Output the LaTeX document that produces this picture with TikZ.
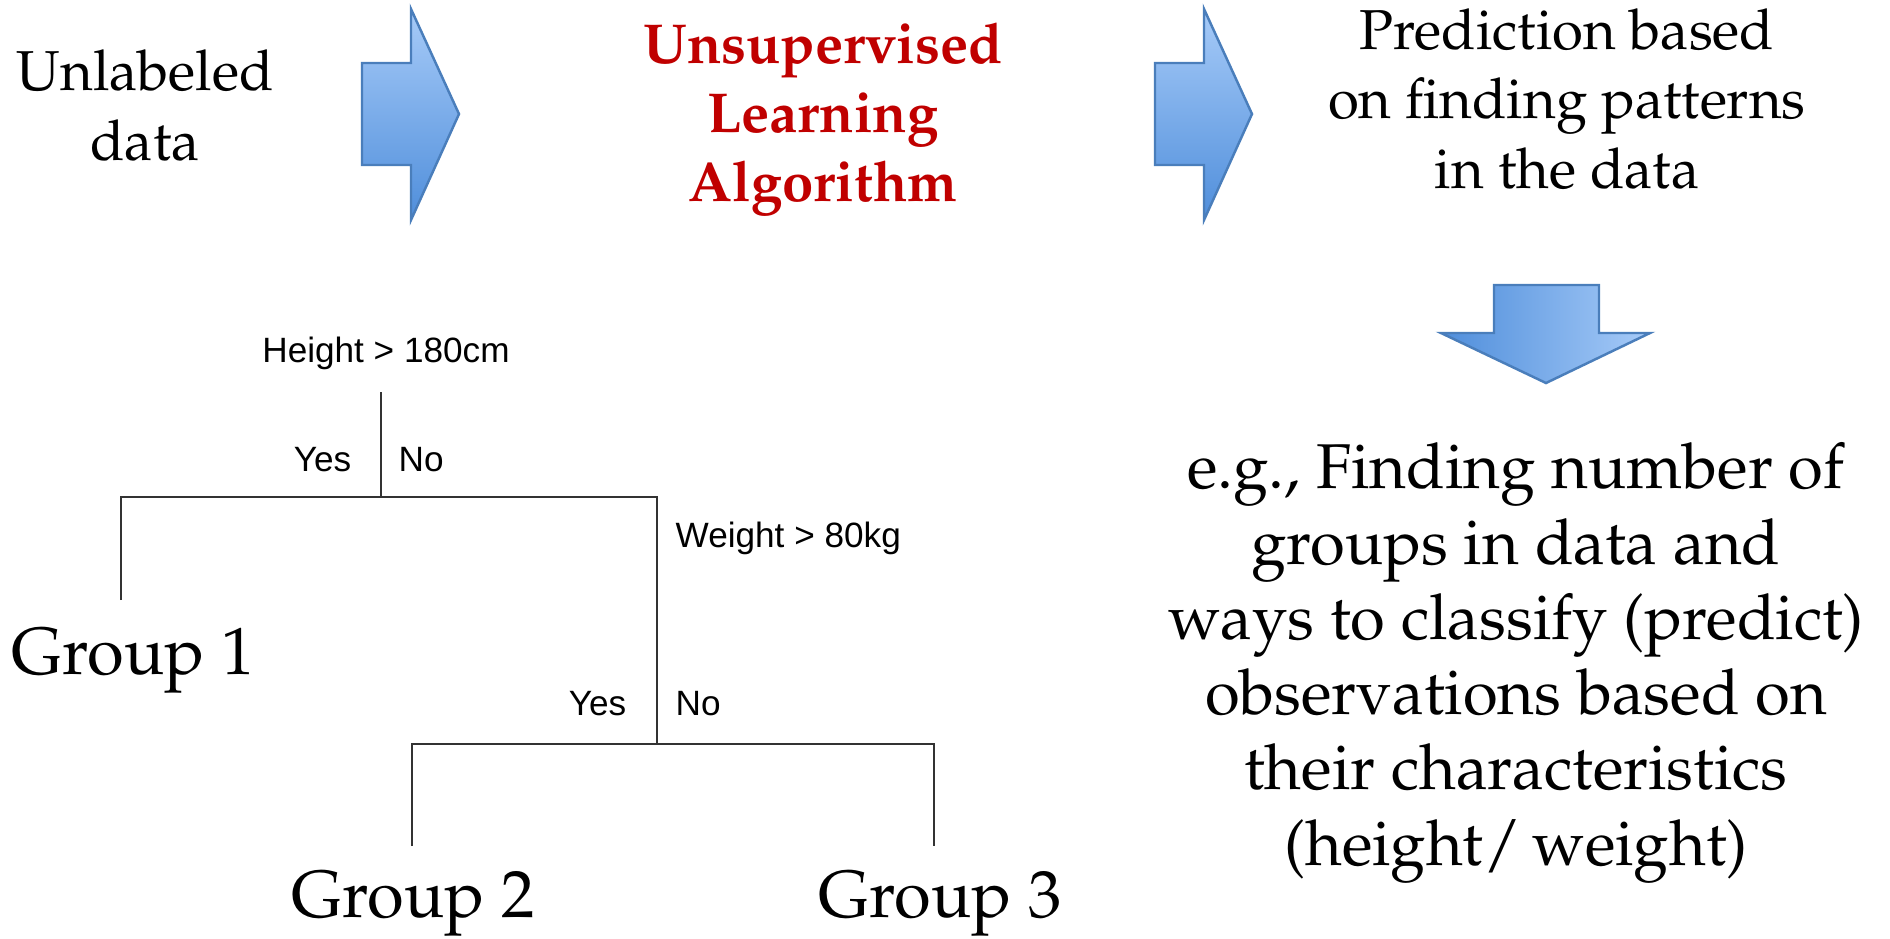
\documentclass[tikz,border=0pt]{standalone}
\usepackage[T1]{fontenc}
\usepackage{fontspec}
\newfontfamily\treefont{Liberation Sans}
\newcommand{\palfont}{\fontencoding{T1}\fontfamily{ppl}\selectfont}
\usetikzlibrary{positioning}
\definecolor{arrowtop}{HTML}{A7CBF8}
\definecolor{arrowbot}{HTML}{4F8EDB}
\definecolor{arrowedge}{HTML}{4A7EBB}
\definecolor{algored}{HTML}{C00000}
\definecolor{treegray}{HTML}{333333}

\begin{document}
\begin{tikzpicture}[x=0.01cm, y=-0.01cm,
  blockarrow/.style={draw=arrowedge, line width=0.7pt, line join=miter},
  maintext/.style={font=\palfont\fontsize{16}{19.8}\selectfont, align=center, inner sep=0pt},
  bigtext/.style={font=\palfont\fontsize{18}{21.4}\selectfont, align=center, inner sep=0pt},
  grouptext/.style={font=\palfont\fontsize{19}{22}\selectfont, inner sep=0pt},
  treelbl/.style={font=\treefont\fontsize{10}{12}\selectfont, inner sep=0pt},
  treeline/.style={treegray, line width=0.6pt}]
  \useasboundingbox (0,0) rectangle (1890,938);

  % Top row
  \node[maintext] (unlabeled) at (145,105) {Unlabeled\\data};
  \foreach \ax in {362,1155}{
    \shade[blockarrow, top color=arrowtop, bottom color=arrowbot]
      (\ax,63) -- ++(49,0) -- ++(0,-54) -- ++(48,105) -- ++(-48,106) -- ++(0,-55) -- ++(-49,0) -- cycle;
  }
  \node[maintext, font=\palfont\bfseries\fontsize{16}{19.6}\selectfont, algored] (algo) at (823,119)
    {Unsupervised\\Learning\\Algorithm};
  \node[maintext] (predict) at (1567,99) {Prediction based\\on finding patterns\\in the data};

  % Down arrow
  \shade[blockarrow, left color=arrowbot, right color=arrowtop]
    (1494,285) -- (1599,285) -- (1599,333) -- (1650,333) -- (1546,383) -- (1441,333) -- (1494,333) -- cycle;
  \node[bigtext] (example) at (1516,663)
    {e.g., Finding number of\\groups in data and\\ways to classify (predict)\\observations based on\\their characteristics\\(height/\,weight)};

  % Tree
  \node[treelbl] (height) at (386,353) {Height > 180cm};
  \coordinate (stem1) at (381,392);
  \coordinate (split1) at (381,497);
  \coordinate (leaf1) at (121,600);
  \coordinate (split2) at (657,744);
  \coordinate (leaf2) at (412,846);
  \coordinate (leaf3) at (934,846);
  \draw[treeline] (stem1) -- (split1);
  \draw[treeline] (leaf1) |- (split1) -| (split2);
  \draw[treeline] (leaf2) |- (split2) -| (leaf3);
  \node[treelbl, anchor=east] (yes1) at (352,460) {Yes};
  \node[treelbl, anchor=west] (no1) at (398,460) {No};
  \node[treelbl, anchor=west] (weight) at (675,538) {Weight > 80kg};
  \node[treelbl, anchor=east] (yes2) at (627,704) {Yes};
  \node[treelbl, anchor=west] (no2) at (675,704) {No};
  \node[grouptext] (group1) at (133,661) {Group 1};
  \node[grouptext] (group2) at (413,904) {Group 2};
  \node[grouptext] (group3) at (940,904) {Group 3};
\end{tikzpicture}
\end{document}
